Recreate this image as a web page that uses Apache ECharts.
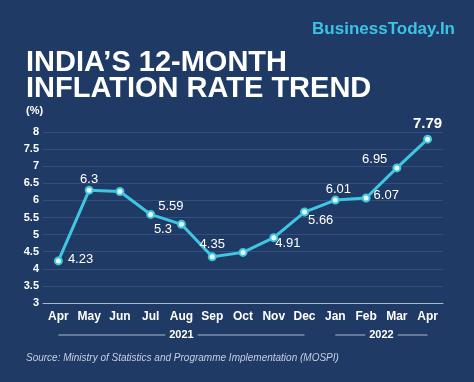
<!DOCTYPE html>
<html>
<head>
<meta charset="utf-8">
<script src="https://cdn.jsdelivr.net/npm/echarts@6/dist/echarts.min.js"></script>
<style>
html,body{margin:0;padding:0;background:#203a66;}
#chart{width:474px;height:382px;}
</style>
</head>
<body>
<div id="chart"></div>
<script>
// ---- data ----
const months = ['Apr','May','Jun','Jul','Aug','Sep','Oct','Nov','Dec','Jan','Feb','Mar','Apr'];
const inflation = [4.23, 6.3, 6.26, 5.59, 5.3, 4.35, 4.48, 4.91, 5.66, 6.01, 6.07, 6.95, 7.79];
const years = ['2021', '2022'];
const yearStart = [0, 9];
const yearEnd = [8, 12];
const yMin = 3, yMax = 8, yStep = 0.5;
const titleLines = ['INDIA\u2019S 12-MONTH', 'INFLATION RATE TREND'];
const brand = 'BusinessToday.In';
const unitText = '(%)';
const sourceText = 'Source: Ministry of Statistics and Programme Implementation (MOSPI)';

// label placement (style only)
const labelPlace = [
  {p:'right', o:[0,-2]}, {p:'top', o:[0,5]}, null, {p:'right', o:[-2,-8]},
  {p:'left', o:[0,5]}, {p:'top', o:[0,4]}, null, {p:'right', o:[-8,6]},
  {p:'right', o:[-6,8]}, {p:'top', o:[3,5]}, {p:'right', o:[-2,-3]},
  {p:'left', o:[0,-8]}, {p:'top', o:[0,2], big:true}
];

const FONT = '"Liberation Sans", Arial, sans-serif';
const chart = echarts.init(document.getElementById('chart'));

const seriesData = inflation.map((v, i) => {
  const lp = labelPlace[i];
  const item = { value: v };
  if (!lp) {
    item.label = { show: false };
  } else {
    item.label = {
      show: true, position: lp.p, offset: lp.o, distance: 5,
      color: '#ffffff', fontFamily: FONT,
      fontSize: lp.big ? 15 : 13, fontWeight: lp.big ? 'bold' : 'normal'
    };
  }
  return item;
});

const option = {
  backgroundColor: '#203a66',
  animation: false,
  grid: { left: 43, right: 31, top: 132, bottom: 79 },
  xAxis: {
    type: 'category',
    data: months,
    boundaryGap: true,
    axisLine: { lineStyle: { color: '#a9b7cd', width: 1 } },
    axisTick: { alignWithLabel: true, length: 4, lineStyle: { color: '#a9b7cd' } },
    axisLabel: { color: '#ffffff', fontFamily: FONT, fontSize: 12, fontWeight: 'bold', margin: 8, interval: 0 }
  },
  yAxis: {
    type: 'value',
    min: yMin, max: yMax, interval: yStep,
    axisLine: { show: false },
    axisTick: { show: false },
    axisLabel: { color: '#ffffff', fontFamily: FONT, fontSize: 11, fontWeight: 'bold', margin: 4 },
    splitLine: { lineStyle: { color: '#344f7c', width: 1 } }
  },
  series: [{
    type: 'line',
    data: seriesData,
    symbol: 'circle',
    symbolSize: 7,
    showAllSymbol: true,
    lineStyle: { color: '#3fc6e2', width: 3 },
    itemStyle: { color: '#e8fbff', borderColor: '#3fc6e2', borderWidth: 2 },
    label: { show: true }
  }]
};
chart.setOption(option);

// ---- annotations: titles, year brackets, source ----
const ctx = document.createElement('canvas').getContext('2d');
function textW(t, font) { ctx.font = font; return ctx.measureText(t).width; }

const graphics = [];
graphics.push({ type: 'text', style: { text: brand, x: 455, y: 29, align: 'right', verticalAlign: 'middle',
  font: 'bold 17px ' + FONT, fill: '#3cc3e4' } });
titleLines.forEach((t, i) => {
  graphics.push({ type: 'text', style: { text: t, x: 26, y: 63 + i * 26, align: 'left', verticalAlign: 'middle',
    font: 'bold 29px ' + FONT, fill: '#ffffff' } });
});
graphics.push({ type: 'text', style: { text: unitText, x: 26, y: 111, align: 'left', verticalAlign: 'middle',
  font: 'bold 11px ' + FONT, fill: '#ffffff' } });

const yearFont = 'bold 11px ' + FONT;
const yy = 335;
years.forEach((yr, k) => {
  const x0 = chart.convertToPixel({ xAxisIndex: 0 }, yearStart[k]);
  const x1 = chart.convertToPixel({ xAxisIndex: 0 }, yearEnd[k]);
  const cx = (x0 + x1) / 2;
  const hw = textW(yr, yearFont) / 2 + 4;
  graphics.push({ type: 'line', shape: { x1: x0, y1: yy, x2: cx - hw, y2: yy }, style: { stroke: '#a9b7cd', lineWidth: 1 } });
  graphics.push({ type: 'line', shape: { x1: cx + hw, y1: yy, x2: x1, y2: yy }, style: { stroke: '#a9b7cd', lineWidth: 1 } });
  graphics.push({ type: 'text', style: { text: yr, x: cx, y: yy, align: 'center', verticalAlign: 'middle',
    font: yearFont, fill: '#ffffff' } });
});
graphics.push({ type: 'text', style: { text: sourceText, x: 26, y: 358, align: 'left', verticalAlign: 'middle',
  font: 'italic 10px ' + FONT, fill: '#c5cfe0' } });

chart.setOption({ graphic: graphics });
</script>
</body>
</html>
